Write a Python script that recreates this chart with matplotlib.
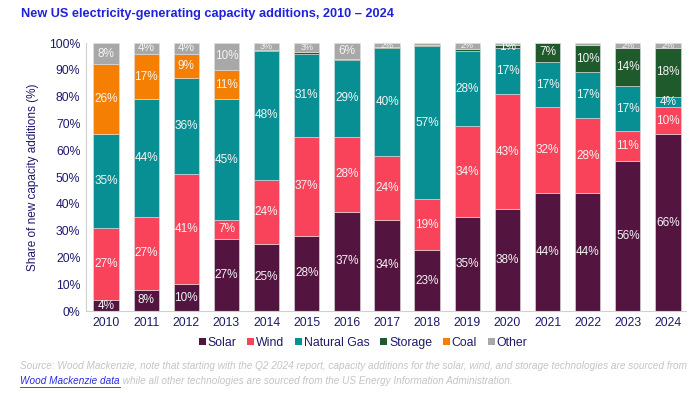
import matplotlib.pyplot as plt
import numpy as np
from matplotlib.patches import Patch
from matplotlib.lines import Line2D

plt.rcParams['font.family'] = ['Liberation Sans', 'DejaVu Sans']

years = ["2010", "2011", "2012", "2013", "2014", "2015", "2016", "2017",
         "2018", "2019", "2020", "2021", "2022", "2023", "2024"]
solar   = [4, 8, 10, 27, 25, 28, 37, 34, 22.7, 35, 38, 44, 44, 56, 66]
wind    = [27, 27, 41, 7, 24, 37, 28, 24, 19, 34, 43, 32, 28, 11, 10]
gas     = [35, 44, 36, 45, 48, 31, 28.6, 40, 57, 28, 17, 17, 17, 17, 4]
storage = [0, 0, 0, 0, 0.3, 0.6, 0.6, 0.4, 0.5, 0.8, 1.3, 7, 10.2, 14, 18]
coal    = [26, 17, 9, 11, 0, 0, 0, 0, 0, 0, 0, 0, 0, 0, 0]
other   = [8, 4, 4, 10, 2.7, 3.4, 5.8, 1.6, 0.8, 2.2, 0.7, 0.5, 0.8, 2, 2]

names = ["Solar", "Wind", "Natural Gas", "Storage", "Coal", "Other"]
colors = ["#53153f", "#f8435a", "#078f94", "#1f5a2c", "#f57f03", "#a8a8a8"]
series = [solar, wind, gas, storage, coal, other]

navy = "#1d1a6b"

fig = plt.figure(figsize=(7, 3.93), dpi=100)
ax = fig.add_axes([86 / 700, 1 - 311 / 393, 600 / 700, 268 / 393])

x = np.arange(len(years))
bottom = np.zeros(len(years))
for vals, name, col in zip(series, names, colors):
    vals = np.array(vals, dtype=float)
    ax.bar(x, vals, 0.63, bottom=bottom, color=col, edgecolor="#e0e0e0",
           linewidth=0.4, label=name)
    for xi, v, b in zip(x, vals, bottom):
        if v >= 1:
            small = v < 4 and name == "Other"
            ax.text(xi, b + v / 2, f"{round(v):.0f}%", ha="center", va="center",
                    color="#f4f4f4", fontsize=6.5 if small else 8.5)
    bottom += vals

ax.set_xlim(-0.5, 14.45)
ax.set_ylim(0, 100)
ax.set_xticks(x)
ax.set_xticklabels(years)
ax.set_yticks(range(0, 101, 10))
ax.set_yticklabels([f"{v}%" for v in range(0, 101, 10)])
ax.tick_params(colors=navy, labelsize=8.8, length=0, pad=4)
for s in ["top", "right"]:
    ax.spines[s].set_visible(False)
for s in ["left", "bottom"]:
    ax.spines[s].set_color("#d0d0d0")
ax.set_ylabel("Share of new capacity additions (%)", color=navy, fontsize=8.5, labelpad=7)

fig.text(21 / 700, 1 - 14 / 393, "New US electricity-generating capacity additions, 2010 \u2013 2024",
         color="#1f22d9", fontsize=9.2, fontweight="bold", va="center")

handles = [Patch(facecolor=c, label=n) for n, c in zip(names, colors)]
fig.legend(handles=handles, loc="center", bbox_to_anchor=(363 / 700, 1 - 343 / 393), ncol=6,
           frameon=False, fontsize=8.8, handlelength=0.55, handleheight=0.55,
           handletextpad=0.15, columnspacing=0.9, labelcolor=navy)

grey = "#c4c4c4"
fig.text(20 / 700, 1 - 366 / 393,
         "Source: Wood Mackenzie, note that starting with the Q2 2024 report, capacity additions for the solar, wind, and storage technologies are sourced from",
         color=grey, fontsize=7.2, style="italic", va="center")
link = fig.text(20 / 700, 1 - 381 / 393, "Wood Mackenzie data", color="#2a2ae0",
                fontsize=7.2, style="italic", va="center")
fig.canvas.draw()
bb = link.get_window_extent()
ax.annotate(" while all other technologies are sourced from the US Energy Information Administration.",
            xy=(1, 0.5), xycoords=link, va="center", ha="left",
            color=grey, fontsize=7.2, style="italic", annotation_clip=False)
fig.add_artist(Line2D([bb.x0 / 700, bb.x1 / 700], [(bb.y0 - 0.5) / 393, (bb.y0 - 0.5) / 393],
                      color="#2a2ae0", lw=0.6))

fig.savefig("out.png", dpi=100)
